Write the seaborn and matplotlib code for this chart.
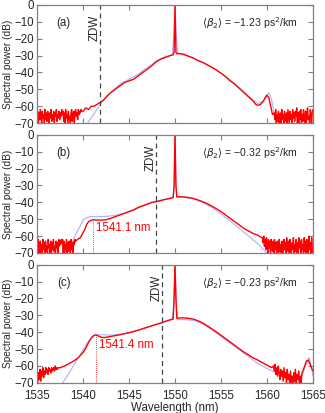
import numpy as np
import pandas as pd
import matplotlib
matplotlib.use("Agg")
import matplotlib.pyplot as plt
import seaborn as sns

# ---- panel (a) ----
a_noise_l = [-67, -63, -70, -64, -68, -62, -66, -71, -63, -67, -65, -70, -62, -68, -64, -69, -63, -66, -71, -64,
             -67, -62, -69, -65, -68, -63, -70, -64, -66, -62, -69, -65, -67, -63, -68, -64, -66, -62, -65, -63,
             -69, -64, -71, -62, -67, -65, -70, -63, -68, -66, -72, -64, -62, -69, -65, -63, -70, -64, -62, -66,
             -64, -68, -62, -65, -63, -64, -62, -63]
a_main_wl = [1540.0, 1540.3, 1540.6, 1540.9, 1541.2, 1541.5, 1541.8, 1542.2, 1542.6, 1543.0, 1543.5, 1544.0,
             1544.5, 1545.0, 1545.5, 1546.0, 1546.5, 1547.0, 1547.5, 1548.0, 1548.5, 1549.0, 1549.5, 1549.8,
             1549.9, 1550.0, 1550.1, 1550.2, 1550.5, 1551.0, 1551.5, 1552.0, 1552.5, 1553.0, 1553.5, 1554.0,
             1554.5, 1555.0, 1555.5, 1556.0, 1556.5, 1557.0, 1557.5, 1558.0, 1558.5, 1558.8, 1559.0, 1559.3,
             1559.6, 1559.9, 1560.0, 1560.2, 1560.4, 1560.6]
a_main_db = [-63, -61, -62, -60, -60, -59, -58, -56.5, -54, -52, -50, -48, -46, -45, -44, -42, -40, -38, -36,
             -33.5, -32, -31, -30, -29.5, -28, 0, -28, -29, -28.8, -29.5, -30.5, -31.5, -33, -34, -35.5, -37,
             -38.5, -40.5, -42.5, -45, -47, -49.5, -52, -54.5, -57, -59, -59.5, -59, -57, -54, -53.5, -55, -60, -65]
a_noise_r = [-64, -68, -62, -71, -65, -69, -63, -72, -66, -64, -70, -62, -68, -65, -71, -63, -67, -69, -64, -72,
             -62, -66, -70, -63, -68, -65, -71, -62, -67, -64, -69, -63, -66, -61, -70, -64, -72, -63, -68, -62,
             -71, -65, -69, -62, -67, -70, -63, -72, -64, -61, -68, -66, -70, -62, -65, -71, -63, -62]
a_sim_wl = [1540.5, 1541.0, 1541.5, 1542.0, 1543.0, 1544.0, 1545.0, 1546.0, 1547.0, 1548.0, 1549.0, 1549.7,
            1549.85, 1550.0, 1550.15, 1550.3, 1551.0, 1552.0, 1553.0, 1554.0, 1555.0, 1556.0, 1557.0, 1558.0,
            1559.0, 1559.7, 1560.2, 1560.5, 1560.8, 1561.0]
a_sim_db = [-70, -66, -62, -58, -52, -47, -44, -41, -37, -33, -30.5, -29.5, -20, 0, -20, -28.5, -29, -31.5,
            -34, -37, -40.5, -44.5, -49, -54, -58.5, -57, -52, -56, -65, -71]

# ---- panel (b) ----
b_noise_l = [-64, -69, -62, -71, -66, -63, -70, -65, -72, -62, -68, -64, -71, -63, -69, -66, -72, -62, -67, -65,
             -70, -63, -71, -64, -68, -62, -69, -66, -72, -63, -67, -64, -70, -62, -66, -63, -65, -62, -64, -62,
             -70, -63, -72, -65, -68, -62, -71, -64, -69, -63, -66, -72, -62, -68, -64, -70, -63, -65, -62, -63]
b_main_wl = [1539.4, 1539.7, 1540.0, 1540.2, 1540.4, 1540.6, 1540.8, 1541.1, 1541.5, 1542.0, 1542.5, 1543.0,
             1543.5, 1544.0, 1544.5, 1545.0, 1545.5, 1546.0, 1546.5, 1547.0, 1547.5, 1548.0, 1548.5, 1549.0,
             1549.5, 1549.8, 1549.9, 1550.0, 1550.1, 1550.2, 1550.5, 1551.0, 1551.5, 1552.0, 1552.5, 1553.0,
             1553.5, 1554.0, 1554.5, 1555.0, 1555.5, 1556.0, 1556.5, 1557.0, 1557.5, 1558.0, 1558.5, 1559.0,
             1559.3]
b_main_db = [-62, -61, -58, -56, -53, -51.5, -50.8, -50.3, -50.5, -50.5, -50.3, -49.5, -48.5, -47.5, -46.5,
             -45.5, -44.5, -43, -42, -41, -40, -39.5, -38.8, -38.2, -37.6, -37.2, -30, 0, -30, -36.8, -36.7,
             -36.8, -37.2, -37.7, -38.6, -39.6, -40.8, -42.2, -43.8, -45.5, -47.5, -49.5, -51.5, -53.5, -55.5,
             -57, -58.5, -59.5, -60.5]
b_noise_r = [-61, -64, -60, -66, -62, -68, -61, -65, -70, -62, -67, -63, -71, -62, -66, -69, -63, -72, -62, -68,
             -64, -70, -63, -66, -71, -62, -69, -65, -72, -63, -67, -70, -62, -68, -64, -71, -61, -66, -69, -63,
             -72, -62, -67, -70, -64, -68, -61, -71, -65, -69, -62, -70, -64, -72, -61, -67, -63, -71, -62, -68,
             -65, -72, -61, -69, -63, -70, -62, -66, -71, -60, -68, -64, -72, -61, -67, -70]
b_sim_wl = [1538.2, 1538.7, 1539.1, 1539.6, 1540.0, 1540.4, 1540.8, 1541.5, 1542.5, 1543.5, 1544.5, 1545.5,
            1546.5, 1547.5, 1548.5, 1549.5, 1549.8, 1549.9, 1550.0, 1550.1, 1550.2, 1551.0, 1552.0, 1553.0,
            1554.0, 1555.0, 1556.0, 1557.0, 1558.0, 1559.0, 1559.5, 1560.0, 1560.3]
b_sim_db = [-70, -65, -60, -55, -50.5, -49, -48.5, -48.5, -48.3, -47.8, -46.5, -44.5, -42.2, -40.2, -39, -37.7,
            -37.3, -30, 0, -30, -36.8, -37, -38, -40, -43, -47, -51, -55.5, -60, -64.5, -67.5, -70, -72]

# ---- panel (c) ----
c_noise_l = [-72, -70, -64, -68, -62, -69, -63, -66, -61, -67, -63, -65, -61, -64, -62, -65, -61, -63, -62, -64,
             -61, -63, -62, -61, -63, -60, -62, -61, -62, -61]
c_main_wl = [1537.5, 1538.0, 1538.5, 1539.0, 1539.5, 1540.0, 1540.3, 1540.6, 1540.9, 1541.2, 1541.4, 1541.7,
             1542.0, 1542.3, 1542.7, 1543.2, 1544.0, 1545.0, 1546.0, 1547.0, 1548.0, 1548.5, 1549.0, 1549.5,
             1549.8, 1549.9, 1550.0, 1550.1, 1550.2, 1550.5, 1551.0, 1551.5, 1552.0, 1552.5, 1553.0, 1553.5,
             1554.0, 1554.5, 1555.0, 1555.5, 1556.0, 1556.5, 1557.0, 1557.5, 1558.0, 1558.5, 1559.0, 1559.5,
             1560.0, 1560.5]
c_main_db = [-61, -60, -58.5, -57, -55, -52, -49.5, -46, -43.5, -41.8, -41.5, -42.3, -43, -43.2, -42.8, -42.3,
             -41.5, -40.3, -38.8, -37, -35.3, -34.5, -33.5, -32.6, -32.2, -20, 0, -20, -31.8, -31.5, -31.5,
             -31.8, -32.2, -33.2, -34.5, -36.2, -38, -39.8, -41.8, -43.8, -45.8, -47.8, -49.8, -51.8, -53.5,
             -55.2, -56.5, -58, -59.5, -61]
c_noise_r = [-60, -63, -59, -65, -61, -66, -60, -64, -68, -62, -66, -63, -69, -61, -67, -64, -71, -62, -68, -65,
             -72, -63, -70, -66, -72, -64, -69, -62, -71, -65, -68, -63, -72, -66, -70, -64]
c_tail_wl = [1563.9, 1564.1, 1564.3, 1564.5, 1564.7, 1564.9, 1565.0]
c_tail_db = [-63, -60, -57, -56.5, -59, -62, -63]
c_sim_wl = [1537.8, 1538.5, 1539.0, 1539.5, 1540.0, 1540.5, 1541.0, 1541.5, 1542.0, 1543.0, 1544.0, 1545.0,
            1546.0, 1547.0, 1548.0, 1549.0, 1549.7, 1549.85, 1550.0, 1550.15, 1550.3, 1551.0, 1552.0, 1553.0,
            1554.0, 1555.0, 1556.0, 1557.0, 1558.0, 1559.0, 1560.0, 1561.0, 1562.0, 1562.8, 1563.3, 1563.8,
            1564.3, 1564.6, 1564.9, 1565.0]
c_sim_db = [-70, -64, -59.5, -55, -50.5, -46, -42.5, -41.5, -41.5, -41.7, -41.2, -40.2, -38.7, -37, -35.2,
            -33.4, -32.3, -25, 0, -25, -32.5, -32.5, -33, -35, -38.5, -42.5, -46.5, -50.5, -54.5, -58.5, -61.5,
            -64, -66.5, -69, -70.5, -66, -58, -55, -62, -66]

labels = ["(a)", "(b)", "(c)"]
beta2 = ["\u22121.23", "\u22120.32", "\u22120.23"]
zdw = [1541.8, 1547.9, 1548.6]
edge_wl = [None, 1541.1, 1541.4]
edge_db = [None, -50.3, -41.5]


def spectrum(noise_l, l_range, main_wl, main_db, noise_r, r_range, tail_wl=(), tail_db=()):
    wl = list(np.linspace(l_range[0], l_range[1], len(noise_l))) + list(main_wl)
    db = list(noise_l) + list(main_db)
    wl += list(np.linspace(r_range[0], r_range[1], len(noise_r))) + list(tail_wl)
    db += list(noise_r) + list(tail_db)
    return pd.DataFrame({"wl": wl, "db": db})


meas = [
    spectrum(a_noise_l, (1535.0, 1539.85), a_main_wl, a_main_db, a_noise_r, (1560.8, 1565.0)),
    spectrum(b_noise_l, (1535.0, 1539.2), b_main_wl, b_main_db, b_noise_r, (1559.5, 1565.0)),
    spectrum(c_noise_l, (1535.0, 1537.3), c_main_wl, c_main_db, c_noise_r, (1560.7, 1563.8), c_tail_wl, c_tail_db),
]
sims = [
    pd.DataFrame({"wl": a_sim_wl, "db": a_sim_db}),
    pd.DataFrame({"wl": b_sim_wl, "db": b_sim_db}),
    pd.DataFrame({"wl": c_sim_wl, "db": c_sim_db}),
]

sns.set_style("ticks")
plt.rcParams["font.family"] = ["Liberation Sans", "DejaVu Sans"]
plt.rcParams["mathtext.fontset"] = "dejavusans"
plt.rcParams["axes.unicode_minus"] = True

fs = 8.3
fig, axes = plt.subplots(3, 1, figsize=(3.25, 4.13), dpi=100, sharex=True)
fig.subplots_adjust(left=0.114, right=0.963, top=0.988, bottom=0.073, hspace=0.1)

frame = "#808080"
for i, ax in enumerate(axes):
    sns.lineplot(data=sims[i], x="wl", y="db", ax=ax, color="#a9b0ff", lw=0.8, sort=False, estimator=None)
    sns.lineplot(data=meas[i], x="wl", y="db", ax=ax, color="#ff0000", lw=1.0, sort=False, estimator=None)
    ax.axvline(zdw[i], color="#444444", lw=0.9, ls=(0, (4, 3)))
    ax.text(zdw[i] - 0.55, -13.5, "ZDW", rotation=90, ha="center", va="center", fontsize=fs)
    ax.text(1537.9, -10.7, labels[i], ha="center", va="center", fontsize=fs)
    ax.text(1563.3, -10.7, r"$\langle\beta_2\rangle$ = " + beta2[i] + r" ps$^2$/km",
            ha="right", va="center", fontsize=7.6)
    if edge_wl[i] is not None:
        ax.plot([edge_wl[i], edge_wl[i]], [-70, edge_db[i]], color="#ff0000", lw=0.6, ls=(0, (1, 1.5)))
        ax.text(edge_wl[i] + 0.35, -55.5 if i == 1 else -47.5, f"{edge_wl[i]} nm",
                color="#ff0000", ha="left", va="center", fontsize=fs)
    ax.set_xlim(1535, 1565)
    ax.set_ylim(-70, 0)
    ax.set_yticks(np.arange(-70, 1, 10))
    ax.set_xticks(np.arange(1535, 1566, 5))
    ax.tick_params(direction="in", length=3.5, width=0.8, color=frame, top=True, right=True,
                   labelsize=fs, pad=2)
    ax.tick_params(axis="x", pad=5.5)
    for s in ax.spines.values():
        s.set_color(frame)
        s.set_linewidth(0.9)
    ax.set_ylabel("Spectral power (dB)", fontsize=7.3, labelpad=1)
    ax.set_xlabel("")
    ax.set_yticklabels([f"{v}".replace("-", "\u2212") for v in range(-70, 1, 10)])

axes[2].set_xlabel("Wavelength (nm)", fontsize=fs, labelpad=0)

fig.savefig("out.png", dpi=100)
